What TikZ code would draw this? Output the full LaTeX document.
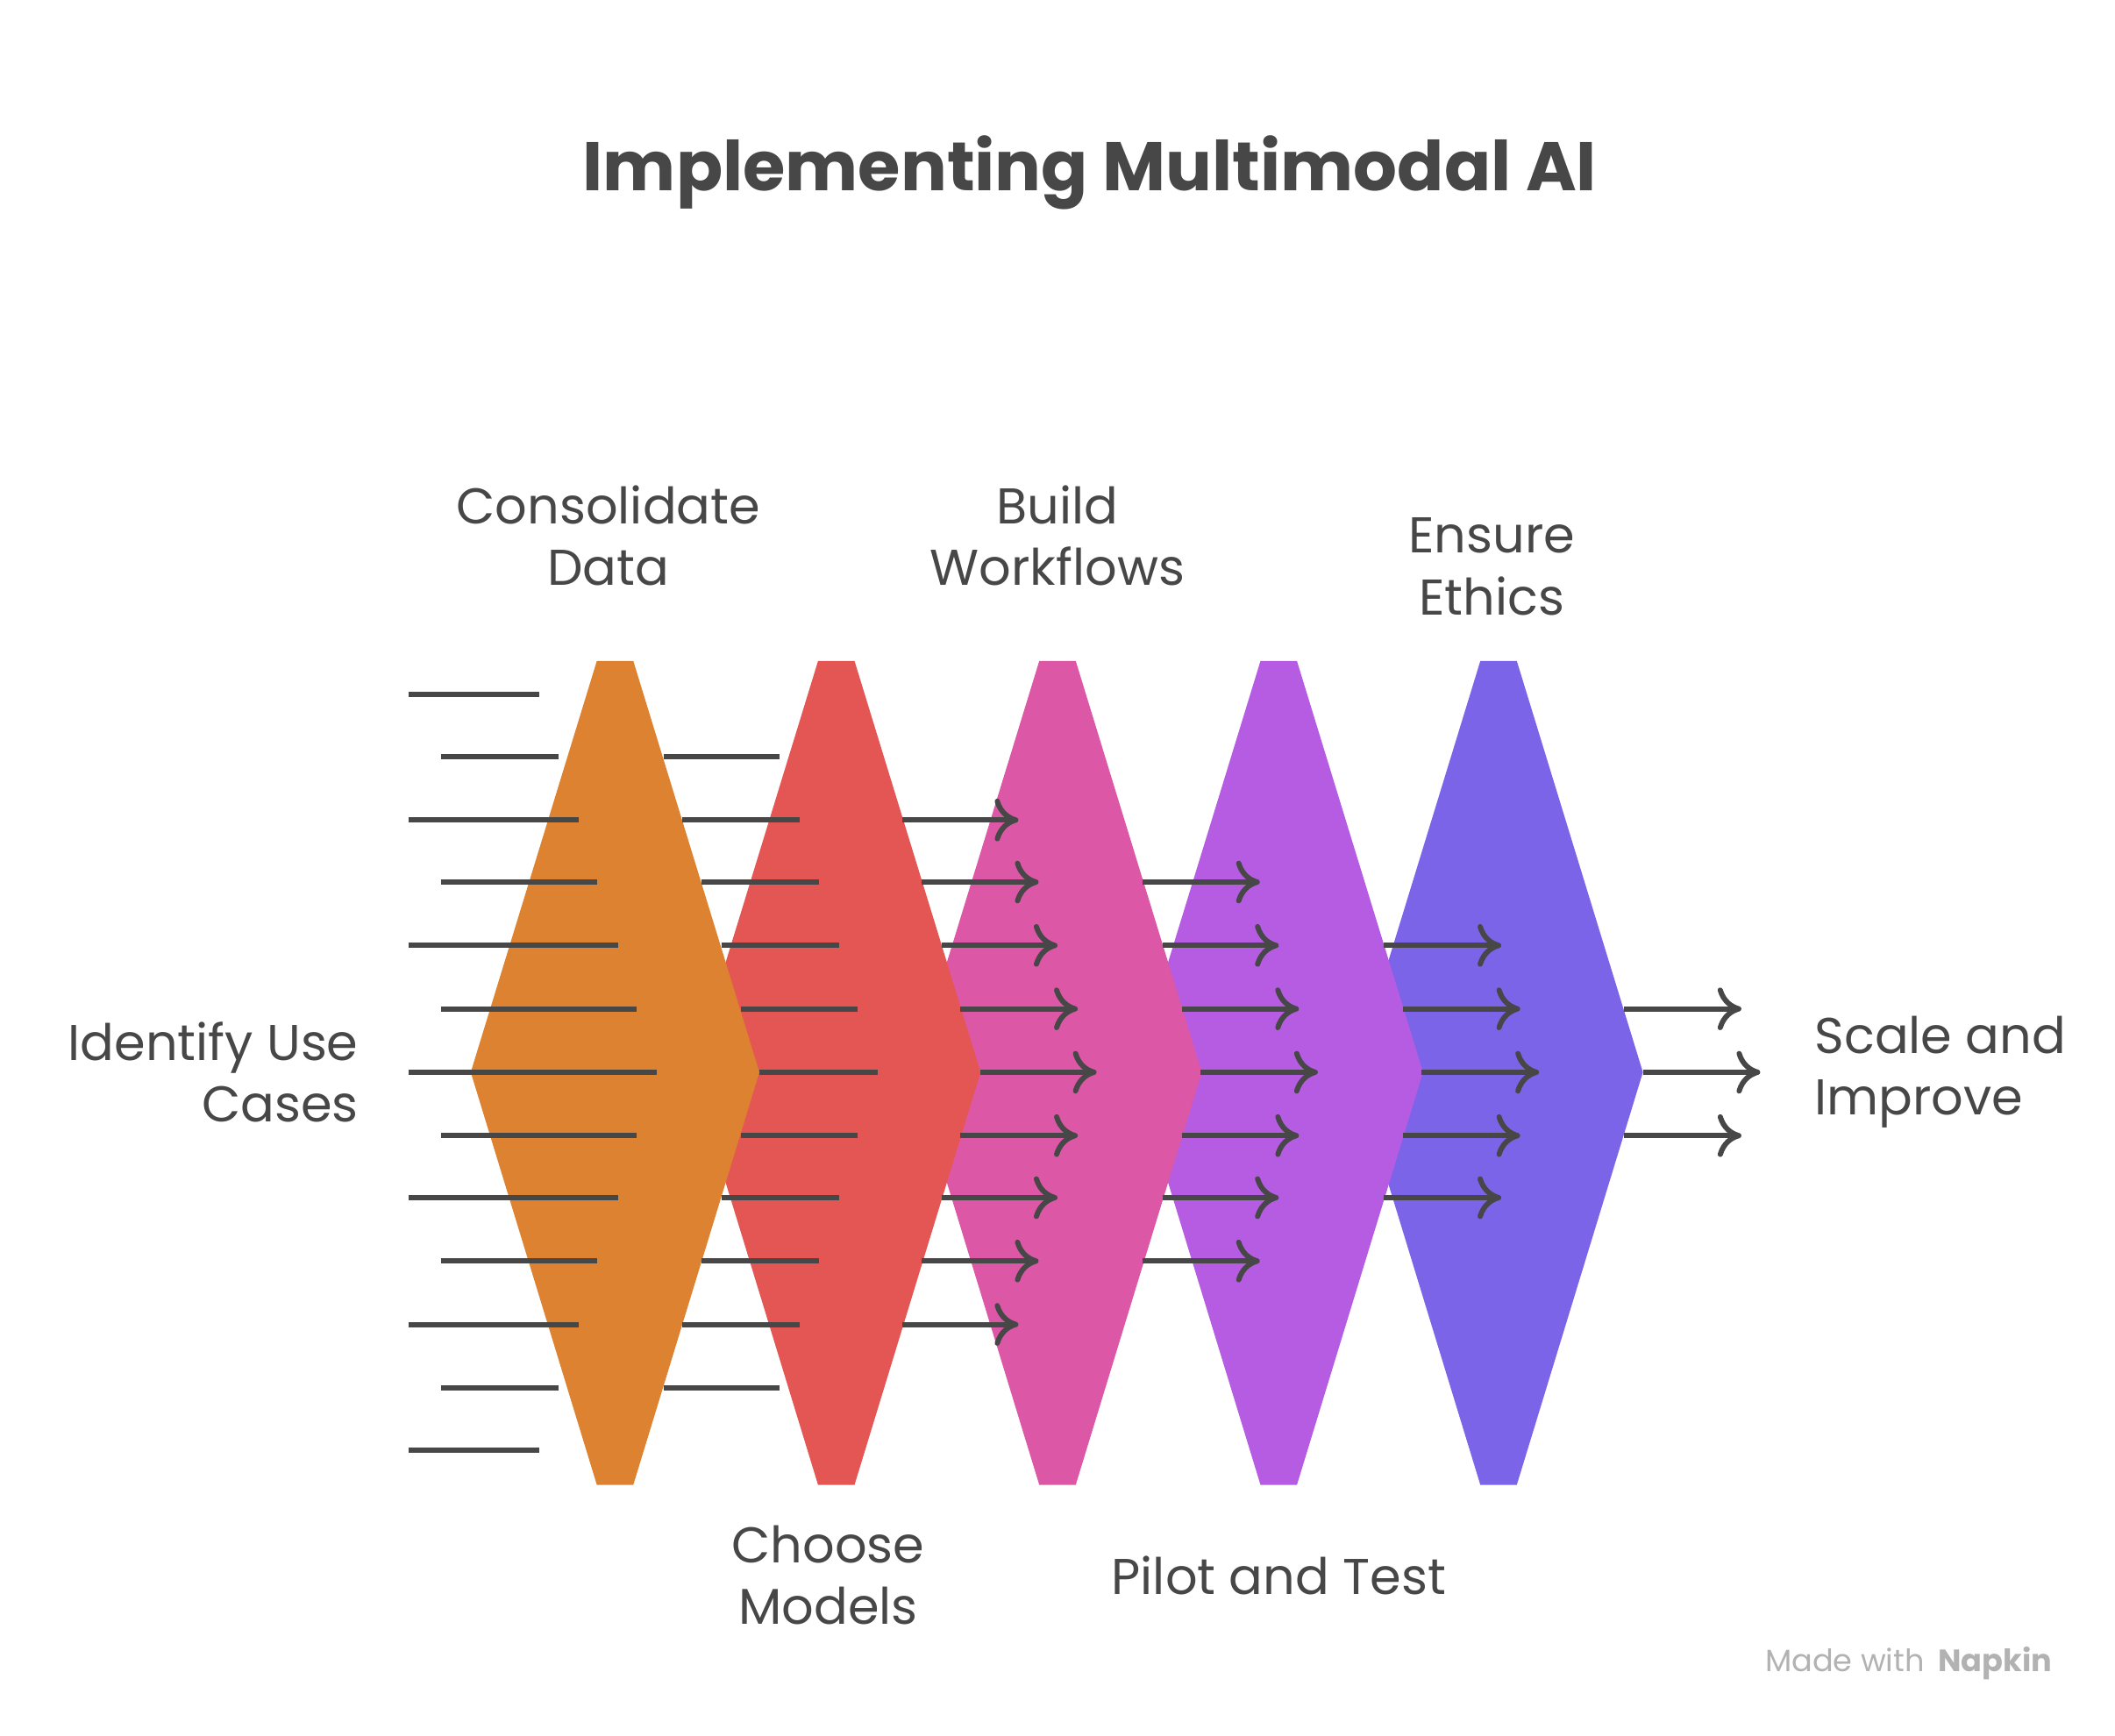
\documentclass[tikz,border=0pt]{standalone}
\usepackage{fontspec}
\setmainfont{Poppins}
\usetikzlibrary{arrows.meta}
\definecolor{ink}{HTML}{474747}
\definecolor{cA}{HTML}{DD8231}
\definecolor{cB}{HTML}{E35653}
\definecolor{cC}{HTML}{DC58A6}
\definecolor{cD}{HTML}{B65CE3}
\definecolor{cE}{HTML}{7B64E8}
\tikzset{
 lab/.style={text=ink,font=\fontsize{10.6}{13}\selectfont,align=center},
 ln/.style={draw=ink,line width=1.1pt},
 ar/.style={ln,-{To[length=5pt,width=9pt,line width=1.1pt]}},
}
\newcommand{\dia}[2]{\fill[#2] (#1-13.5,490) -- (#1+13.5,490) -- (#1+107,795) -- (#1+13.5,1101) -- (#1-13.5,1101) -- (#1-107,795) -- cycle;}
\begin{document}
\begin{tikzpicture}[x=0.01cm,y=-0.01cm]
\useasboundingbox (0,0) rectangle (1568,1287);
\dia{1111}{cE}
\dia{948}{cD}
\dia{784}{cC}
\dia{620}{cB}
\dia{456}{cA}
% left lines
\foreach \y/\a/\b in {515/303/400,561/327/414,608/303/429,654/327/443,701/303/458,748/327/472,795/303/487,842/327/472,888/303/458,935/327/443,982/303/429,1029/327/414,1075/303/400}
  \draw[ln] (\a,\y) -- (\b,\y);
\foreach \y/\a/\b in {561/492/578,608/506/593,654/520/607,701/535/622,748/549/636,795/563/651,842/549/636,888/535/622,935/520/607,982/506/593,1029/492/578}
  \draw[ln] (\a,\y) -- (\b,\y);
\foreach \y/\a/\b in {608/669/755,654/683/770,701/698/784,748/712/799,795/727/813,842/712/799,888/698/784,935/683/770,982/669/755}
  \draw[ar] (\a,\y) -- (\b,\y);
\foreach \y/\a/\b in {654/847/934,701/862/948,748/876/963,795/890/977,842/876/963,888/862/948,935/847/934}
  \draw[ar] (\a,\y) -- (\b,\y);
\foreach \y/\a/\b in {701/1026/1113,748/1040/1127,795/1054/1141,842/1040/1127,888/1026/1113}
  \draw[ar] (\a,\y) -- (\b,\y);
\foreach \y/\a/\b in {748/1204/1291,795/1218/1305,842/1204/1291}
  \draw[ar] (\a,\y) -- (\b,\y);
\node[text=ink,font=\fontsize{14.5}{17}\selectfont\bfseries] (title) at (808,128) {Implementing Multimodal AI};
\node[lab] (s1) at (451,397) {Consolidate\\Data};
\node[lab] (s3) at (784,397) {Build\\Workflows};
\node[lab] (s5) at (1106,420) {Ensure\\Ethics};
\node[lab,align=right,anchor=east] (s0) at (278,795) {Identify Use\\Cases};
\node[lab] (s2) at (614,1168) {Choose\\Models};
\node[lab] (s4) at (948,1168) {Pilot and Test};
\node[lab,align=left,anchor=west] (s6) at (1333,795) {Scale and\\Improve};
\node[text=gray!60,font=\fontsize{6.5}{8}\selectfont] (wm) at (1415,1233) {Made with \,\textbf{Napkin}};
\end{tikzpicture}
\end{document}
